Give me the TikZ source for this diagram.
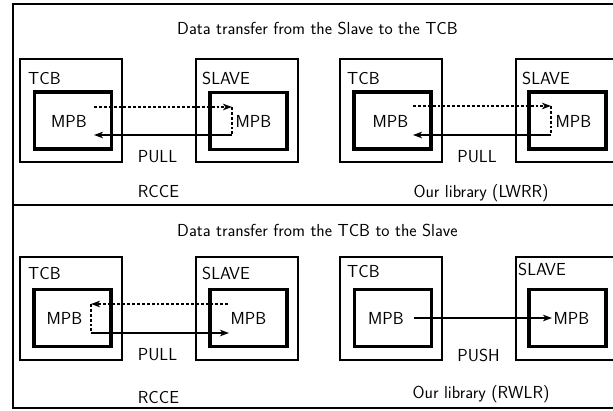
\documentclass[tikz,border=0pt]{standalone}
\usetikzlibrary{arrows.meta}
\begin{document}
\begin{tikzpicture}[x=1pt,y=-1pt,
  every node/.style={font=\fontsize{17.4}{20}\sffamily, inner sep=0pt},
  frame/.style={line width=2.6pt},
  corebox/.style={draw, line width=2pt, minimum width=102pt, minimum height=103pt},
  mpbbox/.style={draw, line width=3.5pt, minimum width=77pt, minimum height=57pt},
  lbl/.style={anchor=base west},
  ctr/.style={anchor=base},
  tip/.style={-{Stealth[length=9pt,width=6.5pt,inset=2.5pt]}},
  solidline/.style={line width=2.3pt},
  dotline/.style={line width=2.9pt, dash pattern=on 2.9pt off 2pt}]
\useasboundingbox (0,0) rectangle (613,411);
\clip (0,0) rectangle (613,411);

% outer frame and divider between the two halves
\draw[frame] (13,4) rectangle (626,408);
\draw[frame] (13,205) -- (626,205);

% ---------------- upper half: Slave -> TCB ----------------
\node[ctr] (titleA) at (317.5,35) {Data transfer from the Slave to the TCB};

% RCCE
\node[corebox] (tcbA) at (70.5,111) {};
\node[mpbbox]  (mtA)  at (73,120.5) {};
\node[corebox] (slvA) at (246.5,111) {};
\node[mpbbox]  (msA)  at (248.5,121) {};
\node[lbl] (tcbAt) at (28,85) {TCB};
\node[lbl] (slvAt) at (202,85) {SLAVE};
\node[ctr] (mtAt) at (69,128) {MPB};
\node[ctr] (msAt) at (253.5,128) {MPB};
\node[ctr] (pullA) at (157.5,163) {PULL};
\node[ctr] (rcceA) at (158.5,198) {RCCE};
\coordinate (a1) at (94,107);
\coordinate (a2) at (232,107);
\coordinate (a3) at (232,135);
\coordinate (a4) at (94,135);
\draw[dotline,tip] (a1) -- (a2);
\draw[dotline] (a2) -- (a3);
\draw[solidline,tip] (a3) -- (a4);

% Our library (LWRR)
\node[corebox] (tcbB) at (390.5,110.5) {};
\node[mpbbox]  (mtB)  at (392.5,120.5) {};
\node[corebox] (slvB) at (566.5,110.5) {};
\node[mpbbox]  (msB)  at (567.5,120.5) {};
\node[lbl] (tcbBt) at (347,85) {TCB};
\node[lbl] (slvBt) at (522,85) {SLAVE};
\node[ctr] (mtBt) at (390.5,128) {MPB};
\node[ctr] (msBt) at (573.5,128) {MPB};
\node[ctr] (pullB) at (477,163) {PULL};
\node[ctr] (libB) at (481,198) {Our library (LWRR)};
\coordinate (b1) at (413,106);
\coordinate (b2) at (551,106);
\coordinate (b3) at (551,135);
\coordinate (b4) at (413,135);
\draw[dotline,tip] (b1) -- (b2);
\draw[dotline] (b2) -- (b3);
\draw[solidline,tip] (b3) -- (b4);

% ---------------- lower half: TCB -> Slave ----------------
\node[ctr] (titleC) at (317.5,237) {Data transfer from the TCB to the Slave};

% RCCE
\node[corebox] (tcbC) at (70.5,309) {};
\node[mpbbox]  (mtC)  at (72.5,318) {};
\node[corebox] (slvC) at (246.5,309) {};
\node[mpbbox]  (msC)  at (248.5,318) {};
\node[lbl] (tcbCt) at (28,280) {TCB};
\node[lbl] (slvCt) at (202,280) {SLAVE};
\node[ctr] (mtCt) at (64.5,325) {MPB};
\node[ctr] (msCt) at (248.5,325) {MPB};
\node[ctr] (pullC) at (157.5,361) {PULL};
\node[ctr] (rcceC) at (158.5,403) {RCCE};
\coordinate (c1) at (228,304);
\coordinate (c2) at (91,304);
\coordinate (c3) at (91,333);
\coordinate (c4) at (229,333);
\draw[dotline,tip] (c1) -- (c2);
\draw[dotline] (c2) -- (c3);
\draw[solidline,tip] (c3) -- (c4);

% Our library (RWLR)
\node[corebox] (tcbD) at (390.5,309) {};
\node[mpbbox]  (mtD)  at (393,318) {};
\node[corebox] (slvD) at (566.5,309) {};
\node[mpbbox]  (msD)  at (567.5,318) {};
\node[lbl] (tcbDt) at (347,278) {TCB};
\node[lbl] (slvDt) at (518,276) {SLAVE};
\node[ctr] (mtDt) at (386,325) {MPB};
\node[ctr] (msDt) at (571.5,325) {MPB};
\node[ctr] (pushD) at (478.5,362) {PUSH};
\node[ctr] (libD) at (481,399) {Our library (RWLR)};
\coordinate (d1) at (414,318);
\coordinate (d2) at (552,318);
\draw[solidline,tip] (d1) -- (d2);
\end{tikzpicture}
\end{document}
